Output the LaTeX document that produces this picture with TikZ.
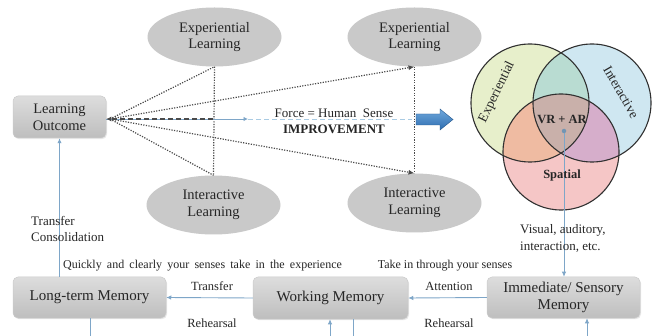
\documentclass[tikz,border=0pt]{standalone}
\usepackage{fontspec}
\setmainfont{Liberation Serif}
\usetikzlibrary{shapes.geometric,arrows.meta,shadows}
\definecolor{txt}{HTML}{262626}
\definecolor{connblue}{HTML}{7EA6C8}
\definecolor{lightblue}{HTML}{A9CBE3}
\definecolor{dotgray}{HTML}{4A4A4A}
\definecolor{ellgray}{HTML}{C9C9C9}
\definecolor{boxtop}{HTML}{DDDDDD}
\definecolor{boxbot}{HTML}{BEBEBE}
\definecolor{cA}{HTML}{E7EFCB}
\definecolor{cB}{HTML}{CFE7F1}
\definecolor{cC}{HTML}{F5C6C6}
\definecolor{cAB}{HTML}{B9DCD2}
\definecolor{cAC}{HTML}{EFBBA2}
\definecolor{cBC}{HTML}{D6AECB}
\definecolor{cABC}{HTML}{C9B0AA}
\definecolor{vennline}{HTML}{303030}
\definecolor{arrowtop}{HTML}{6FA8DC}
\definecolor{arrowbot}{HTML}{2E6DB0}
\tikzset{
  membox/.style={rectangle, rounded corners=5pt, top color=boxtop, bottom color=boxbot,
    draw=boxbot!80!white, line width=0.5pt, align=center, text=txt, inner sep=1pt,
    drop shadow={opacity=0.18, shadow xshift=1pt, shadow yshift=-1.2pt},
    font=\fontsize{15}{17}\selectfont},
  ellnode/.style={ellipse, fill=ellgray, align=center, text=txt, inner sep=1pt,
    minimum width=134pt, minimum height=59pt, font=\fontsize{14.5}{16.5}\selectfont},
  lbl/.style={text=txt, inner sep=0pt, font=\fontsize{12.5}{16.5}\selectfont},
  conn/.style={draw=connblue, line width=0.9pt, -{Latex[length=5pt,width=4.5pt]}},
  plainline/.style={draw=connblue, line width=0.9pt},
  dots/.style={draw=dotgray, line width=1.2pt, dash pattern=on 1.2pt off 1.4pt},
  dotarrow/.style={dots, -{Latex[length=6pt,width=5pt,fill=dotgray]}},
}
\begin{document}
\begin{tikzpicture}[x=1pt,y=-1pt]
\useasboundingbox (0,0) rectangle (655,336);
\fill[white] (0,0) rectangle (655,336);

% ---------- nodes ----------
\node[membox, minimum width=93pt, minimum height=42pt, font=\fontsize{14.5}{17}\selectfont] (lo) at (59.5,117) {Learning\\Outcome};
\node[ellnode] (e1) at (214.5,37) {Experiential\\Learning};
\node[ellnode] (i1) at (213.5,205) {Interactive\\Learning};
\node[ellnode] (e2) at (414.5,37) {Experiential\\Learning};
\node[ellnode] (i2) at (414.5,203) {Interactive\\Learning};
\node[membox, minimum width=153pt, minimum height=41pt] (ltm) at (89.5,297.5) {Long-term Memory};
\node[membox, minimum width=155pt, minimum height=42pt] (wm) at (330.5,298) {Working Memory};
\node[membox, minimum width=153pt, minimum height=41pt] (ism) at (563.5,297.5) {Immediate/ Sensory\\Memory};

% ---------- dotted fan ----------
\coordinate (p) at (110,119);
\draw[dots] (p) -- (e1.south);
\draw[dots] (p) -- (i1.north);
\draw[dotarrow] (p) -- (e2.south);
\draw[dotarrow] (p) -- (i2.north);
\draw[dots] (e1.south) -- (i1.north);
\draw[dots] (e2.south) -- (i2.north);

% ---------- central line ----------
\coordinate (m1) at (213,119);
\coordinate (m2) at (248,119);
\coordinate (m3) at (412,119);
\draw[plainline] (lo.east |- m1) -- (m1);
\draw[conn, -{Latex[length=4.5pt,width=4.5pt]}] (m1) -- (m2);
\draw[draw=lightblue, line width=0.9pt, dash pattern=on 5pt off 3pt] (m2) -- (m3);
\draw[draw=dotgray, line width=1.3pt, dash pattern=on 5pt off 3pt, -{Latex[length=5pt,width=5pt]}] (m1) -- (lo.east |- m1);

\node[lbl, font=\fontsize{13}{15}\selectfont] (force) at (334,113) {Force = Human\ \ Sense};
\node[lbl, font=\fontsize{13}{15}\selectfont\bfseries] (impr) at (334,129.5) {IMPROVEMENT};

% ---------- block arrow ----------
\shade[top color=arrowtop, bottom color=arrowbot, draw=arrowbot!80!black, line width=0.4pt]
  (416,114) -- (440,114) -- (440,109) -- (453,119.5) -- (440,130) -- (440,125) -- (416,125) -- cycle;

% ---------- Venn ----------
\def\circA{(530,103) circle[radius=59pt]}
\def\circB{(592,103) circle[radius=59pt]}
\def\circC{(561,152) circle[radius=58pt]}
\fill[cA] \circA;
\fill[cB] \circB;
\fill[cC] \circC;
\begin{scope}\clip \circA; \fill[cAB] \circB; \end{scope}
\begin{scope}\clip \circA; \fill[cAC] \circC; \end{scope}
\begin{scope}\clip \circB; \fill[cBC] \circC; \end{scope}
\begin{scope}\clip \circA; \clip \circB; \fill[cABC] \circC; \end{scope}
\draw[vennline, line width=1.1pt] \circA;
\draw[vennline, line width=1.1pt] \circB;
\draw[vennline, line width=1.1pt] \circC;

\node[circle, fill=connblue!90!black, inner sep=0pt, minimum size=4.5pt] (vdot) at (564,131) {};
\draw[conn] (vdot.south) -- (vdot.south |- ism.north);

\node[lbl, font=\fontsize{13.5}{15}\selectfont, rotate=64] (lexp) at (497,92) {Experiential};
\node[lbl, font=\fontsize{13.5}{15}\selectfont, rotate=-60] (lint) at (621,92) {Interactive};
\node[lbl, font=\fontsize{12.5}{15}\selectfont\bfseries] (vrar) at (562,119) {VR + AR};
\node[lbl, font=\fontsize{12.5}{15}\selectfont\bfseries] (spat) at (562,175) {Spatial};

% ---------- memory connectors ----------
\draw[conn] (ism.west) -- (wm.east);
\draw[conn] (wm.west) -- (ltm.east);
\draw[conn] (ltm.north -| lo.south) -- (lo.south);

\coordinate (b1) at (90,336);
\coordinate (b2) at (330,336);
\coordinate (b3) at (353,336);
\coordinate (b4) at (587,336);
\draw[plainline] (ltm.south -| b1) -- (b1);
\draw[conn] (b2) -- (wm.south -| b2);
\draw[plainline] (wm.south -| b3) -- (b3);
\draw[conn] (b4) -- (ism.south -| b4);

% ---------- labels ----------
\node[lbl, align=left, anchor=west, font=\fontsize{13}{16}\selectfont] (tc) at (31,229) {Transfer\\Consolidation};
\node[lbl, font=\fontsize{12}{14}\selectfont] (quick) at (202.5,266) {\spaceskip=5.2pt Quickly and clearly your senses take in the experience};
\node[lbl, font=\fontsize{12}{14}\selectfont] (take) at (445,266) {Take in through your senses};
\node[lbl] (tr) at (212,286) {Transfer};
\node[lbl] (att) at (449,286) {Attention};
\node[lbl] (reh1) at (212,323) {Rehearsal};
\node[lbl] (reh2) at (449,323) {Rehearsal};
\node[lbl, align=left, anchor=west, font=\fontsize{13}{17}\selectfont] (vis) at (520,238.5) {Visual, auditory,\\interaction, etc.};
\end{tikzpicture}
\end{document}
